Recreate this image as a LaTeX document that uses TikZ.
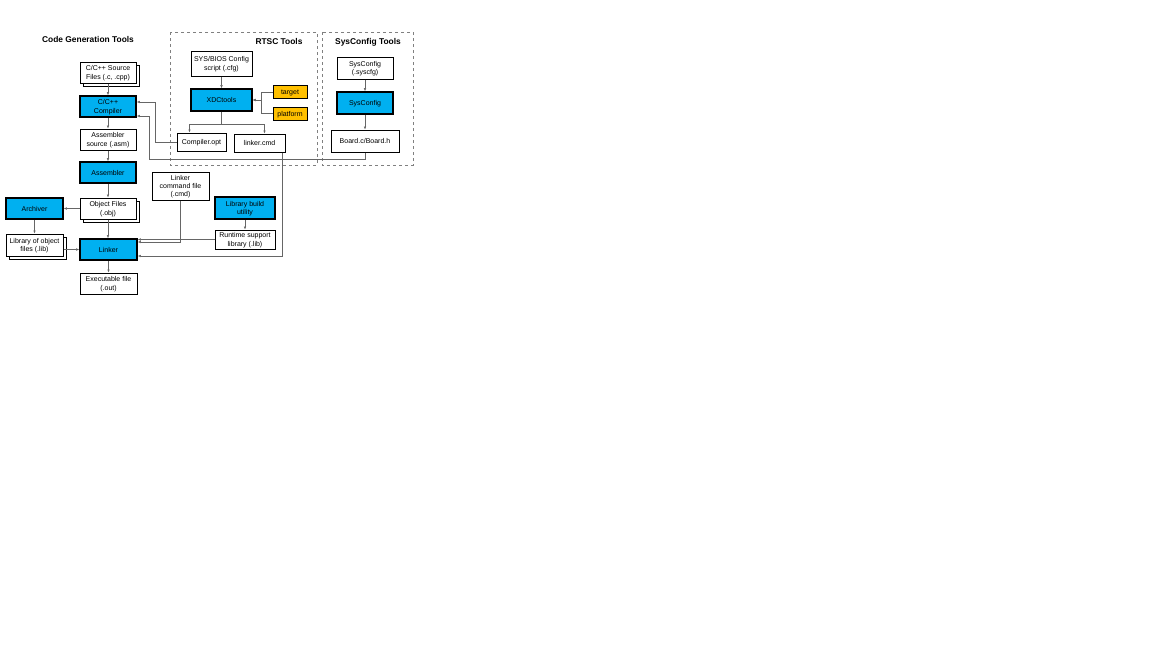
\documentclass[tikz,border=0pt]{standalone}
\usepackage{fontspec}
\setmainfont{Liberation Sans}
\usetikzlibrary{arrows.meta,shadows,calc}

\definecolor{tiblue}{HTML}{00B0F0}
\definecolor{tiorange}{HTML}{FFC000}
\definecolor{lncol}{HTML}{666666}

\begin{document}
\begin{tikzpicture}[x=1pt,y=-1pt,
    box/.style={draw,fill=white,line width=1pt,align=center,inner sep=1pt,text depth=0pt,
        font=\fontsize{7}{8.3}\selectfont,minimum width=56pt,minimum height=21pt},
    bluebox/.style={box,fill=tiblue,line width=1.6pt},
    orangebox/.style={box,fill=tiorange,line width=0.8pt,minimum width=34pt,minimum height=13pt},
    stack/.style={copy shadow={shadow xshift=3pt,shadow yshift=-3pt,draw=black,fill=white,line width=1pt}},
    conn/.style={->,lncol,line width=0.5pt},
    >={Latex[length=3pt,width=2.5pt]},
    frame/.style={draw=gray,dashed,line width=0.6pt},
    title/.style={font=\bfseries\fontsize{8.4}{9}\selectfont}]
    \fill[white] (0,0) rectangle (1152,648);
    \useasboundingbox (0,0) rectangle (1152,648);

    % tool frames
    \draw[frame] (170,32) rectangle (317,165);
    \draw[frame] (322,32) rectangle (413,165);
    \node[title] (cgt) at (88,39) {Code Generation Tools};
    \node[title] (rtsc) at (279,41.5) {RTSC Tools};
    \node[title] (sct) at (368,42) {SysConfig Tools};

    % code generation
    \node[box,stack] (src) at (108,72.5) {C/C++ Source\\Files (.c, .cpp)};
    \node[bluebox] (comp) at (108,106.5) {C/C++\\Compiler};
    \node[box] (asmsrc) at (108,139.5) {Assembler\\source (.asm)};
    \node[bluebox] (asm) at (108,172.5) {Assembler};
    \node[box,stack] (obj) at (108,208.5) {Object Files\\(.obj)};
    \node[bluebox,minimum width=57pt] (arch) at (34.5,208.5) {Archiver};
    \node[box,stack,minimum width=57pt,minimum height=22pt] (lib) at (34.5,245) {Library of object\\files (.lib)};
    \node[bluebox,minimum width=57pt] (linker) at (108.5,249.5) {Linker};
    \node[box,minimum width=57pt] (exe) at (108.5,283.5) {Executable file\\(.out)};
    \node[box,minimum width=57pt,minimum height=28pt] (lcmd) at (180.5,186) {Linker\\command file\\(.cmd)};
    \node[bluebox,minimum width=60pt,minimum height=22pt] (lbu) at (245,208) {Library build\\utility};
    \node[box,minimum width=60pt,minimum height=19pt] (rts) at (245,239.5) {Runtime support\\library (.lib)};

    % RTSC
    \node[box,minimum width=61pt,minimum height=25pt] (sysbios) at (221.5,63.5) {SYS/BIOS Config\\script (.cfg)};
    \node[bluebox,minimum width=61pt,minimum height=22pt] (xdc) at (221.5,100) {XDCtools};
    \node[orangebox] (target) at (290,92) {target};
    \node[orangebox] (platform) at (290,113.5) {platform};
    \node[box,minimum width=49pt,minimum height=18pt] (copt) at (201.5,142) {Compiler.opt};
    \node[box,minimum width=51pt,minimum height=18pt] (lnkcmd) at (259.5,143) {linker.cmd};

    % SysConfig
    \node[box,minimum height=22pt] (syscfg) at (365,68) {SysConfig\\(.syscfg)};
    \node[bluebox,minimum height=22pt] (sysconfig) at (365,103) {SysConfig};
    \node[box,minimum width=68pt,minimum height=22pt] (board) at (365,141) {Board.c/Board.h};

    % connections
    \draw[conn] (src) -- (comp);
    \draw[conn] (comp) -- (asmsrc);
    \draw[conn] (asmsrc) -- (asm);
    \draw[conn] (asm) -- (obj);
    \draw[conn] (obj.south) -- (obj.south |- linker.north);
    \draw[conn] (obj.west) -- (arch.east);
    \draw[conn] (arch) -- (lib);
    \draw[conn] (lib.east |- linker.west) -- (linker.west);
    \draw[conn] (linker) -- (exe);
    \draw[conn] (lcmd.south) |- ($(linker.east)+(0,-7.5)$);
    \draw[conn] (rts.west) -- (rts.west -| linker.east);
    \draw[conn] ($(lnkcmd.south)+(22.5,0)$) |- ($(linker.east)+(0,6.5)$);
    \draw[conn] (lbu) -- (rts);

    \draw[conn] (sysbios) -- (xdc);
    \draw[conn] (target.west) -- ++(-11,0) |- (xdc.east);
    \draw[conn] (platform.west) -- ++(-11,0) |- (xdc.east);
    \draw[conn] (xdc.south) -- ++(0,12) -| ($(copt.north)+(-12,0)$);
    \draw[conn] (xdc.south) -- ++(0,12) -| ($(lnkcmd.north)+(5,0)$);
    \draw[conn] (copt.west) -- ++(-21,0) |- ($(comp.east)+(0,-4.5)$);

    \draw[conn] (syscfg) -- (sysconfig);
    \draw[conn] (sysconfig) -- (board);
    \draw[conn] (board.south) -- ++(0,7) -| ($(comp.east)+(12,9.5)$) -- ($(comp.east)+(0,9.5)$);
\end{tikzpicture}
\end{document}
